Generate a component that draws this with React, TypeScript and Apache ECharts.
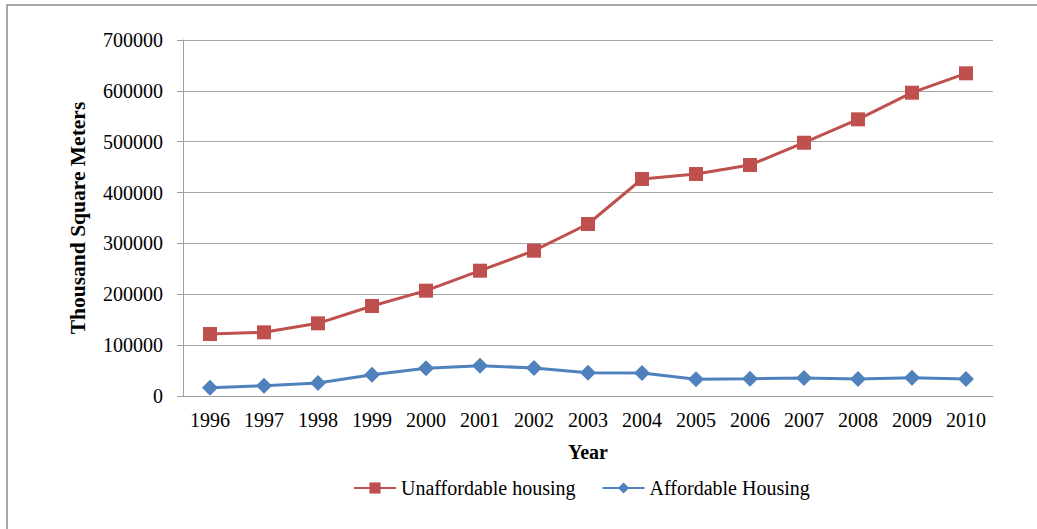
import React, { useEffect, useRef } from "react";
import * as echarts from "echarts";

const years = ["1996", "1997", "1998", "1999", "2000", "2001", "2002", "2003", "2004", "2005", "2006", "2007", "2008", "2009", "2010"];
const unaffordable = [121900, 125200, 142900, 177000, 207100, 246400, 285700, 338200, 426700, 436500, 454200, 498000, 544000, 596400, 634500];
const affordable = [16400, 20300, 25600, 41900, 54400, 59600, 55100, 45800, 45300, 32800, 34000, 35500, 33400, 35800, 33400];

const FONT = "'Liberation Serif', 'Times New Roman', serif";

export default function App() {
  const ref = useRef<HTMLDivElement>(null);
  useEffect(() => {
    if (!ref.current) return;
    const chart = echarts.init(ref.current, null, { renderer: "svg" });
    chart.setOption({
      animation: false,
      backgroundColor: "#ffffff",
      textStyle: { fontFamily: FONT },
      graphic: [
        {
          type: "rect",
          shape: { x: 7, y: 5, width: 1200, height: 700 },
          style: { fill: "none", stroke: "#8c8c8c", lineWidth: 1.5 },
          silent: true,
        },
      ],
      grid: { left: 183, right: 44, top: 40, bottom: 133, containLabel: false },
      legend: {
        left: 348,
        top: 473,
        itemWidth: 42,
        itemHeight: 14,
        itemGap: 26,
        textStyle: { fontFamily: FONT, fontSize: 20, color: "#000" },
        data: ["Unaffordable housing", "Affordable Housing"],
      },
      xAxis: {
        type: "category",
        data: years,
        boundaryGap: true,
        name: "Year",
        nameLocation: "middle",
        nameGap: 46,
        nameTextStyle: { fontFamily: FONT, fontSize: 20, fontWeight: "bold", color: "#000" },
        axisLine: { lineStyle: { color: "#a0a0a0", width: 1 } },
        axisTick: { show: false },
        axisLabel: { fontFamily: FONT, fontSize: 20, color: "#000", margin: 14 },
      },
      yAxis: {
        type: "value",
        min: 0,
        max: 700000,
        interval: 100000,
        name: "Thousand Square Meters",
        nameLocation: "middle",
        nameRotate: 90,
        nameGap: 94,
        nameTextStyle: { fontFamily: FONT, fontSize: 21.5, fontWeight: "bold", color: "#000" },
        axisLine: { show: true, lineStyle: { color: "#a0a0a0", width: 1 } },
        axisTick: { show: true, length: 6, lineStyle: { color: "#a0a0a0" } },
        axisLabel: {
          fontFamily: FONT,
          fontSize: 20,
          color: "#000",
          margin: 20,
          formatter: (v: number) => String(v),
        },
        splitLine: { show: true, lineStyle: { color: "#a6a6a6", width: 1 } },
      },
      series: [
        {
          name: "Unaffordable housing",
          type: "line",
          data: unaffordable,
          symbol: "rect",
          symbolSize: 14,
          lineStyle: { color: "#C0504D", width: 3 },
          itemStyle: { color: "#C0504D" },
        },
        {
          name: "Affordable Housing",
          type: "line",
          data: affordable,
          symbol: "diamond",
          symbolSize: 16,
          lineStyle: { color: "#4F81BD", width: 3 },
          itemStyle: { color: "#4F81BD" },
        },
      ],
    });
    return () => chart.dispose();
  }, []);
  return (
    <div
      ref={ref}
      style={{ position: "absolute", left: 0, top: 0, width: 1037, height: 529 }}
    />
  );
}
